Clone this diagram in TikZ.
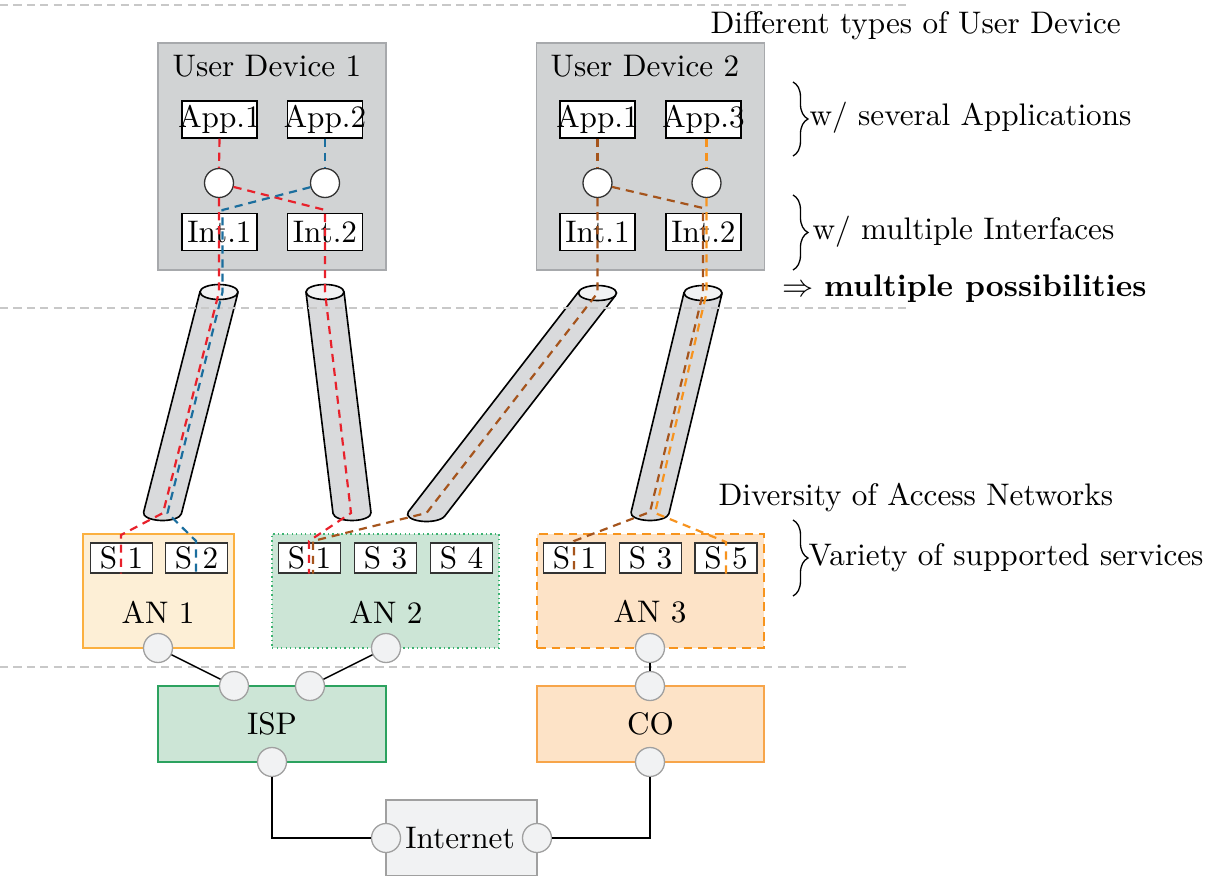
\documentclass[tikz,border=0pt]{standalone}
\usetikzlibrary{decorations.pathreplacing,calc}

\definecolor{sepgray}{HTML}{C8C8C8}
\definecolor{udfill}{HTML}{D1D3D4}
\definecolor{uddraw}{HTML}{A7A9AC}
\definecolor{portfill}{HTML}{F1F2F3}
\definecolor{portdraw}{HTML}{A0A0A0}
\definecolor{cylfill}{HTML}{D9DADC}
\definecolor{cyltop}{HTML}{F1F2F3}
\definecolor{anAfill}{HTML}{FDEFD6}
\definecolor{anAdraw}{HTML}{FBB040}
\definecolor{anBfill}{HTML}{CCE5D6}
\definecolor{anBdraw}{HTML}{3CB371}
\definecolor{anCfill}{HTML}{FDE3C7}
\definecolor{anCdraw}{HTML}{F7941D}
\definecolor{ispfill}{HTML}{CCE5D6}
\definecolor{ispdraw}{HTML}{2CA25F}
\definecolor{cofill}{HTML}{FDE3C7}
\definecolor{codraw}{HTML}{F7A54A}
\definecolor{flowred}{HTML}{E8212B}
\definecolor{flowblue}{HTML}{1B6E9E}
\definecolor{flowbrown}{HTML}{A5541C}
\definecolor{floworange}{HTML}{F7931E}

% one drawing unit
\def\pxu{0.3207pt}
% label that may run past its box
\newcommand\snug[1]{\makebox[0pt]{#1}}

\tikzset{
  sepline/.style={draw=sepgray, line width=0.42pt, dash pattern=on 2.6pt off 1.7pt},
  device/.style={draw=uddraw, fill=udfill, line width=0.42pt, inner sep=0pt,
    minimum width=228*\pxu, minimum height=227*\pxu},
  slot/.style={draw=black, fill=white, line width=0.42pt, inner sep=0pt,
    minimum width=75*\pxu, minimum height=37*\pxu},
  svc/.style={draw=black!80, fill=white, line width=0.42pt, inner xsep=3pt, inner ysep=0pt,
    minimum width=61*\pxu, minimum height=30*\pxu},
  hub/.style={circle, draw=black!80, fill=white, line width=0.42pt, inner sep=0pt,
    minimum size=29*\pxu},
  port/.style={circle, draw=portdraw, fill=portfill, line width=0.42pt, inner sep=0pt,
    minimum size=29*\pxu},
  netbox/.style={inner sep=0pt, line width=0.47pt, minimum width=151*\pxu, minimum height=114*\pxu},
  corebox/.style={inner sep=0pt, line width=0.47pt, minimum width=228*\pxu, minimum height=76*\pxu},
  cylline/.style={draw=black, line width=0.52pt},
  flow/.style={line width=0.7pt, dash pattern=on 2.6pt off 1.9pt},
  redflow/.style={flow, draw=flowred},
  blueflow/.style={flow, draw=flowblue},
  brownflow/.style={flow, draw=flowbrown},
  orangeflow/.style={flow, draw=floworange},
  link/.style={draw=black, line width=0.47pt},
  curly/.style={decorate, decoration={brace, amplitude=4.8pt}, line width=0.42pt},
  note/.style={inner sep=0pt}
}

% a tilted link tube: top x, top y, bottom x, bottom y
\newcommand\tube[4]{%
  \pgfmathsetmacro\tubet{atan(-(7.5*((#3)-(#1)))/(19*((#4)-(#2))))}%
  \pgfmathsetmacro\tubex{19*cos(\tubet)}%
  \pgfmathsetmacro\tubey{7.5*sin(\tubet)}%
  \fill[cylfill] ({(#1)-(\tubex)},{(#2)-(\tubey)}) -- ({(#3)-(\tubex)},{(#4)-(\tubey)})
    arc[start angle=180+\tubet, end angle=360+\tubet, x radius=19*\pxu, y radius=7.5*\pxu]
    -- ({(#1)+(\tubex)},{(#2)+(\tubey)}) -- cycle;
  \draw[cylline] ({(#1)-(\tubex)},{(#2)-(\tubey)}) -- ({(#3)-(\tubex)},{(#4)-(\tubey)})
    arc[start angle=180+\tubet, end angle=360+\tubet, x radius=19*\pxu, y radius=7.5*\pxu]
    -- ({(#1)+(\tubex)},{(#2)+(\tubey)});
  \draw[cylline, fill=cyltop] (#1,#2) ellipse[x radius=19*\pxu, y radius=7.5*\pxu];
}

\begin{document}
\begin{tikzpicture}[x=\pxu, y=\pxu]
\useasboundingbox (0,0) rectangle (1213,-875);

% ---------- user devices ----------
\node[device] (ud1) at (272,-156.5) {};
\node[device] (ud2) at (650.5,-156.5) {};
\node[note, anchor=base west] (ud1t) at (172,-76) {User Device 1};
\node[note, anchor=base west] (ud2t) at (550,-76) {User Device 2};

\node[slot] (a11) at (219.5,-119.5) {\snug{App.1}};
\node[slot] (a12) at (325,-119.5) {\snug{App.2}};
\node[slot] (i11) at (219.5,-232) {Int.1};
\node[slot] (i12) at (325,-232) {Int.2};
\node[hub] (c11) at (219,-183) {};
\node[hub] (c12) at (325,-183) {};

\node[slot] (a21) at (597.5,-119.5) {\snug{App.1}};
\node[slot] (a23) at (703.5,-119.5) {\snug{App.3}};
\node[slot] (i21) at (597.5,-232) {Int.1};
\node[slot] (i22) at (703.5,-232) {Int.2};
\node[hub] (c21) at (597.5,-183) {};
\node[hub] (c22) at (706.5,-183) {};

% ---------- access links ----------
\tube{219}{-292}{162.5}{-513}
\tube{325}{-292}{352}{-513}
\tube{597.5}{-293}{426.5}{-514}
\tube{703}{-293}{650}{-513}

% ---------- access networks ----------
\node[netbox, draw=anAdraw, fill=anAfill] (an1) at (158.5,-591) {};
\node[netbox, minimum width=227*\pxu, draw=anBdraw, fill=anBfill, dash pattern=on 0.45pt off 1pt, line width=0.6pt] (an2) at (385.5,-591) {};
\node[netbox, minimum width=227*\pxu, draw=anCdraw, fill=anCfill, dash pattern=on 2.8pt off 1.9pt, line width=0.6pt] (an3) at (650.5,-591) {};
\node (an1t) at (158,-612) {AN 1};
\node (an2t) at (386,-612) {AN 2};
\node (an3t) at (650,-612) {AN 3};

\node[svc] (s11) at (121.5,-558) {S 1};
\node[svc] (s12) at (196.5,-558) {S 2};
\node[svc] (s21) at (309.5,-558) {S 1};
\node[svc] (s23) at (385.5,-558) {S 3};
\node[svc] (s24) at (461.5,-558) {S 4};
\node[svc] (s31) at (574.5,-558) {S 1};
\node[svc] (s33) at (650.5,-558) {S 3};
\node[svc] (s35) at (726,-558) {S 5};

% ---------- core ----------
\node[corebox, draw=ispdraw, fill=ispfill] (isp) at (272,-724) {ISP};
\node[corebox, minimum width=227*\pxu, draw=codraw, fill=cofill] (co) at (650.5,-724) {CO};
\node[netbox, minimum height=76*\pxu, draw=portdraw, fill=portfill] (inet) at (461.5,-838) {};
\node (inett) at (460,-838) {Internet};

% ---------- layer separators ----------
\draw[sepline] (0,-5) -- (908,-5);
\draw[sepline] (0,-308) -- (908,-308);
\draw[sepline] (0,-667) -- (908,-667);

% ---------- ports and wired links ----------
\node[port] (p1) at (158,-648) {};
\node[port] (p2) at (386,-648) {};
\node[port] (p3) at (650,-648) {};
\node[port] (q1) at (234,-686) {};
\node[port] (q2) at (310,-686) {};
\node[port] (q3) at (272,-762) {};
\node[port] (r1) at (650,-686) {};
\node[port] (r2) at (650,-762) {};
\node[port] (n1) at (386,-838) {};
\node[port] (n2) at (537,-838) {};

\draw[link] (p1) -- (q1);
\draw[link] (p2) -- (q2);
\draw[link] (p3) -- (r1);
\draw[link] (q3) |- (n1);
\draw[link] (r2) |- (n2);

% ---------- application flows ----------
\coordinate (rA1) at (219,-292);
\coordinate (rA2) at (163,-513);
\coordinate (rA3) at (121,-535);
\coordinate (bB0) at (222.5,-210);
\coordinate (bB1) at (222.5,-292);
\coordinate (bB2) at (167.5,-513);
\coordinate (bB3) at (196,-541);
\coordinate (rB0) at (325,-210);
\coordinate (rB1) at (325,-292);
\coordinate (rB2) at (351,-513);
\coordinate (rB3) at (309,-541);
\coordinate (nA1) at (597.5,-293);
\coordinate (nA2) at (426.5,-513);
\coordinate (nA3) at (313,-541);
\coordinate (nB0) at (703,-208);
\coordinate (nB1) at (703,-293);
\coordinate (nB2) at (650,-512);
\coordinate (nB3) at (574,-541);
\coordinate (oA1) at (706.5,-293);
\coordinate (oA2) at (655,-513);
\coordinate (oA3) at (726,-542);

\draw[redflow] (a11.south) -- (c11.north);
\draw[redflow] (c11.south) -- (rA1) -- (rA2) -- (rA3) -- (rA3 |- s11.south);
\draw[redflow] (c11.-15) -- (rB0) -- (rB1) -- (rB2) -- (rB3) -- (rB3 |- s21.south);
\draw[blueflow] (a12.south) -- (c12.north);
\draw[blueflow] (c12.196) -- (bB0) -- (bB1) -- (bB2) -- (bB3) -- (bB3 |- s12.south);

\draw[brownflow] (a21.south) -- (c21.north);
\draw[brownflow] (c21.south) -- (nA1) -- (nA2) -- (nA3) -- (nA3 |- s21.south);
\draw[brownflow] (c21.-15) -- (nB0) -- (nB1) -- (nB2) -- (nB3) -- (nB3 |- s31.south);
\draw[orangeflow] (a23.south -| c22.north) -- (c22.north);
\draw[orangeflow] (c22.south) -- (oA1) -- (oA2) -- (oA3) -- (oA3 |- s35.south);

% ---------- annotations ----------
\node[note, anchor=base west] (h1) at (710,-33) {Different types of User Device};
\coordinate (br1a) at (793,-82);
\coordinate (br1b) at (793,-156);
\draw[curly] (br1a) -- (br1b);
\node[note, anchor=west] (h2) at (809,-118) {w/ several Applications};
\coordinate (br2a) at (793,-195);
\coordinate (br2b) at (793,-270);
\draw[curly] (br2a) -- (br2b);
\node[note, anchor=west] (h3) at (812,-232) {w/ multiple Interfaces};
\node[note, anchor=base west] (h4) at (782,-296) {$\Rightarrow$ \textbf{multiple possibilities}};

\node[note, anchor=base west] (h5) at (718,-505) {Diversity of Access Networks};
\coordinate (br3a) at (793,-520);
\coordinate (br3b) at (793,-596);
\draw[curly] (br3a) -- (br3b);
\node[note, anchor=west] (h6) at (808,-558) {Variety of supported services};
\end{tikzpicture}
\end{document}
